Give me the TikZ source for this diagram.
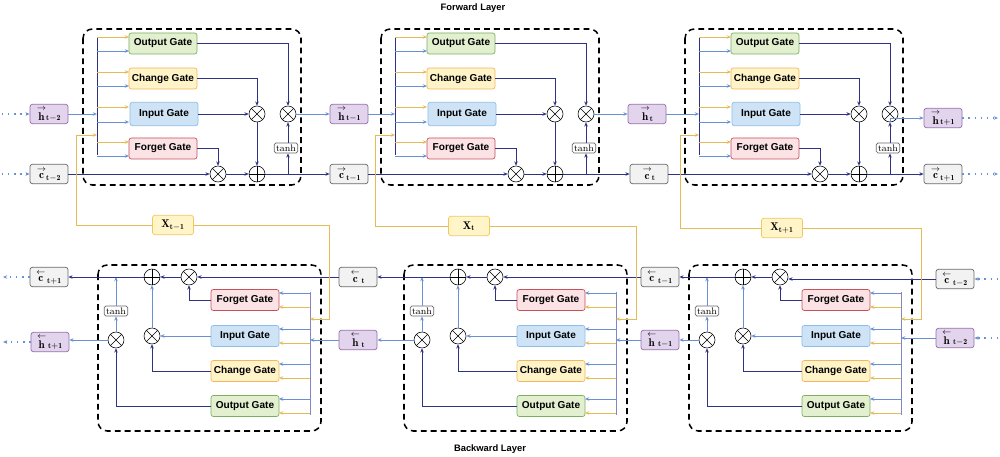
\documentclass[tikz,border=0pt]{standalone}
\usepackage{fontspec}
\setsansfont{Liberation Sans}
\usetikzlibrary{arrows.meta,calc}
\definecolor{navy}{RGB}{45,50,130}
\definecolor{lblue}{RGB}{105,145,210}
\definecolor{busc}{RGB}{130,135,195}
\definecolor{yel}{RGB}{228,188,85}
\definecolor{ofill}{RGB}{226,240,208}\definecolor{odraw}{RGB}{125,175,95}
\definecolor{cfill}{RGB}{255,244,200}\definecolor{cdraw}{RGB}{245,180,95}
\definecolor{ifill}{RGB}{206,228,246}\definecolor{idraw}{RGB}{140,190,232}
\definecolor{ffill}{RGB}{250,226,229}\definecolor{fdraw}{RGB}{200,80,90}
\definecolor{hfill}{RGB}{226,212,236}\definecolor{hdraw}{RGB}{150,110,172}
\definecolor{kfill}{RGB}{242,242,242}\definecolor{kdraw}{RGB}{105,105,105}
\definecolor{xfill}{RGB}{255,245,200}\definecolor{xdraw}{RGB}{240,200,95}
\newcommand\fw[2]{$\stackrel{\rightarrow}{\mathbf{#1}}_{\mathbf{#2}}$}
\newcommand\bw[2]{$\stackrel{\leftarrow}{\mathbf{#1}}_{\,\mathbf{#2}}$}
\tikzset{
 tip/.style={-{Stealth[length=3.6pt,width=3pt]}},
 cellbox/.style={draw=black,line width=1.3pt,dash pattern=on 5pt off 3.5pt,rounded corners=8pt},
 gate/.style={rectangle,rounded corners=2pt,minimum width=2.04cm,minimum height=0.63cm,inner sep=1pt,line width=0.6pt,font=\sffamily\bfseries\fontsize{8.6}{10}\selectfont},
 lab/.style={rectangle,rounded corners=2pt,minimum width=1.14cm,minimum height=0.58cm,inner sep=1pt,line width=0.6pt,font=\fontsize{9.5}{10}\selectfont},
 hbox/.style={lab,fill=hfill,draw=hdraw},
 cbox/.style={lab,fill=kfill,draw=kdraw},
 xbox/.style={lab,fill=xfill,draw=xdraw,minimum width=1.23cm},
 tanhbox/.style={rectangle,rounded corners=1.5pt,draw=kdraw,fill=white,line width=0.6pt,inner sep=1.5pt,font=\fontsize{8}{9}\selectfont},
 op/.style={circle,draw=black,fill=white,minimum size=0.48cm,inner sep=0pt,line width=0.5pt},
 mul/.style={op,path picture={\draw[line width=0.5pt] (path picture bounding box.center) ++(45:0.24cm) -- ++(225:0.48cm);
   \draw[line width=0.5pt] (path picture bounding box.center) ++(135:0.24cm) -- ++(315:0.48cm);}},
 add/.style={op,path picture={\draw[line width=0.5pt] (path picture bounding box.center) ++(0:0.24cm) -- ++(180:0.48cm);
   \draw[line width=0.5pt] (path picture bounding box.center) ++(90:0.24cm) -- ++(270:0.48cm);}},
 narr/.style={tip,draw=navy,line width=0.8pt},
 barr/.style={tip,draw=lblue,line width=0.8pt},
 yarr/.style={tip,draw=yel,line width=0.8pt},
 dotarr/.style={tip,draw=lblue,line width=1pt,dash pattern=on 1.2pt off 4pt},
 title/.style={font=\sffamily\bfseries\fontsize{8}{9}\selectfont}
}
\newcommand\fwdcell[3]{%
\begin{scope}[shift={(#2,#3)}]
\draw[cellbox] (83,29) rectangle (301,185);
\node[gate,fill=ofill,draw=odraw] (#1o) at (163,43.5) {Output Gate};
\node[gate,fill=cfill,draw=cdraw] (#1c) at (163,78.5) {Change Gate};
\node[gate,fill=ifill,draw=idraw,minimum height=0.7cm] (#1i) at (164,114) {Input Gate};
\node[gate,fill=ffill,draw=fdraw] (#1f) at (163,148.5) {Forget Gate};
\draw[navy,line width=0.8pt] (97,37) -- (97,155);
\coordinate (#1hin) at (97,114);
\coordinate (#1xin) at (97,135);
\foreach \gy in {37,72,107,142}{\draw[yarr] (97,\gy) -- (129,\gy);}
\foreach \gy in {51,86,122,156}{\draw[barr] (97,\gy) -- (129,\gy);}
\node[mul] (#1mi) at (257,114) {};
\node[mul] (#1mo) at (288,114) {};
\node[mul] (#1mf) at (218,174) {};
\node[add] (#1pl) at (257,174) {};
\node[tanhbox] (#1t) at (286,148) {$\tanh$};
\coordinate (#1br) at (288,174);
\draw[narr] (#1o.east) -| (#1mo);
\draw[narr] (#1c.east) -| (#1mi);
\draw[narr] (#1i.east) -- (#1mi);
\draw[narr] (#1f.east) -| (#1mf);
\draw[narr] (#1mi) -- (#1pl);
\draw[narr] (#1mf) -- (#1pl);
\draw[narr] (#1br) -- (#1t.south -| #1br);
\draw[narr] (#1t.north -| #1mo) -- (#1mo);
\end{scope}}
\newcommand\bwdcell[3]{%
\begin{scope}[shift={(#2,#3)}]
\draw[cellbox] (98,265) rectangle (321,431);
\node[gate,fill=ffill,draw=fdraw] (#1f) at (245,300) {Forget Gate};
\node[gate,fill=ifill,draw=idraw] (#1i) at (245,336) {Input Gate};
\node[gate,fill=cfill,draw=cdraw] (#1c) at (245,371) {Change Gate};
\node[gate,fill=ofill,draw=odraw] (#1o) at (245,406) {Output Gate};
\draw[busc,line width=0.8pt] (310,292) -- (310,415);
\coordinate (#1hin) at (310,340);
\coordinate (#1xin) at (310,319);
\foreach \gy in {293,329,364,399}{\draw[barr] (310,\gy) -- (279,\gy);}
\foreach \gy in {307,343,378,413}{\draw[yarr] (310,\gy) -- (279,\gy);}
\node[mul] (#1mf) at (189,277) {};
\node[add] (#1pl) at (152,277) {};
\node[mul] (#1mi) at (152,336) {};
\node[mul] (#1mo) at (116,340) {};
\node[tanhbox] (#1t) at (116,311) {$\tanh$};
\coordinate (#1tp) at (116,277);
\draw[narr] (#1f.west) -| (#1mf);
\draw[barr] (#1i.west) -- (#1mi);
\draw[narr] (#1c.west) -| (#1mi);
\draw[narr] (#1o.west) -| (#1mo);
\draw[barr] (#1mi) -- (#1pl);
\draw[narr] (#1mf) -- (#1pl);
\draw[barr] (#1mo) -- (#1t);
\draw[barr] (#1t) -- (#1tp);
\end{scope}}
\begin{document}
\begin{tikzpicture}[x=0.03cm,y=-0.03cm]
\useasboundingbox (0,0) rectangle (1000,457);
\node[title] (tf) at (473,8) {Forward Layer};
\node[title] (tb) at (490,449) {Backward Layer};
\fwdcell{Fa}{0}{0}
\fwdcell{Fb}{298}{0}
\fwdcell{Fc}{602}{0}
\bwdcell{Ba}{0}{0}
\bwdcell{Bb}{306}{0}
\bwdcell{Bc}{591}{0}
% forward labels
\node[hbox] (fh0) at (49,114) {\fw{h}{t-2}};
\node[cbox] (fc0) at (49,174) {\fw{c}{t-2}};
\node[hbox] (fh1) at (349,114) {\fw{h}{t-1}};
\node[cbox] (fc1) at (349,174) {\fw{c}{t-1}};
\node[hbox] (fh2) at (647,114) {\fw{h}{t}};
\node[cbox] (fc2) at (649,174) {\fw{c}{t}};
\node[hbox] (fh3) at (943,118) {\fw{h}{t+1}};
\node[cbox] (fc3) at (943,174) {\fw{c}{t+1}};
\coordinate (e1) at (2,114); \coordinate (e2) at (2,174);
\coordinate (e3) at (998,118); \coordinate (e4) at (998,174);
\draw[dotarr] (e1) -- (fh0); \draw[dotarr] (e2) -- (fc0);
\draw[dotarr] (fh3) -- (e3); \draw[dotarr] (fc3) -- (e4);
\draw[barr] (fh0) -- (Fahin);
\draw[narr] (fc0) -- (Famf);
\draw[barr] (Famo) -- (fh1); \draw[barr] (fh1) -- (Fbhin);
\draw[narr] (Fapl) -- (fc1); \draw[narr] (fc1) -- (Fbmf);
\draw[barr] (Fbmo) -- (fh2); \draw[barr] (fh2) -- (Fchin);
\draw[narr] (Fbpl) -- (fc2); \draw[narr] (fc2) -- (Fcmf);
\draw[barr] (Fcmo) -- (fh3 -| Fcmo) -- (fh3);
\draw[narr] (Fcpl) -- (fc3);
% backward labels
\node[cbox] (bc0) at (49,277) {\bw{c}{t+1}};
\node[hbox] (bh0) at (50,342) {\bw{h}{t+1}};
\node[cbox] (bc1) at (358,277) {\bw{c}{t}};
\node[hbox] (bh1) at (358,340) {\bw{h}{t}};
\node[cbox] (bc2) at (660,277) {\bw{c}{t-1}};
\node[hbox] (bh2) at (660,340) {\bw{h}{t-1}};
\node[cbox] (bc3) at (955,279) {\bw{c}{t-2}};
\node[hbox] (bh3) at (955,338) {\bw{h}{t-2}};
\coordinate (e5) at (3,277); \coordinate (e6) at (3,342);
\coordinate (e7) at (998,279); \coordinate (e8) at (998,338);
\draw[dotarr] (bc0) -- (e5); \draw[dotarr] (bh0) -- (e6);
\draw[dotarr] (e7) -- (bc3); \draw[dotarr] (e8) -- (bh3);
\draw[narr] (bc3.west) -- (bc3.west -| Bcmf.east);
\draw[barr] (bh3.west) -- (bh3.west -| Bchin);
\draw[narr] (Bcpl) -- (bc2); \draw[barr] (Bcmo) -- (bh2);
\draw[narr] (bc2) -- (Bbmf); \draw[barr] (bh2) -- (Bbhin);
\draw[narr] (Bbpl) -- (bc1); \draw[barr] (Bbmo) -- (bh1);
\draw[narr] (bc1) -- (Bamf); \draw[barr] (bh1) -- (Bahin);
\draw[narr] (Bapl) -- (bc0); \draw[barr] (Bamo) -- (Bamo -| bh0.east);
% inputs x
\node[xbox] (x1) at (173,225) {$\mathbf{X}_{\mathbf{t-1}}$};
\node[xbox] (x2) at (469,226) {$\mathbf{X}_{\mathbf{t}}$};
\node[xbox] (x3) at (782,228) {$\mathbf{X}_{\mathbf{t+1}}$};
\coordinate (xa1) at (76,135); \coordinate (xb1) at (329,319);
\coordinate (xa2) at (375,135); \coordinate (xb2) at (636,319);
\coordinate (xa3) at (680,135); \coordinate (xb3) at (921,319);
\draw[yarr] (x1.west) -| (xa1) -- (Faxin);
\draw[yarr] (x1.east) -| (xb1) -- (Baxin);
\draw[yarr] (x2.west) -| (xa2) -- (Fbxin);
\draw[yarr] (x2.east) -| (xb2) -- (Bbxin);
\draw[yarr] (x3.west) -| (xa3) -- (Fcxin);
\draw[yarr] (x3.east) -| (xb3) -- (Bcxin);
\end{tikzpicture}
\end{document}
